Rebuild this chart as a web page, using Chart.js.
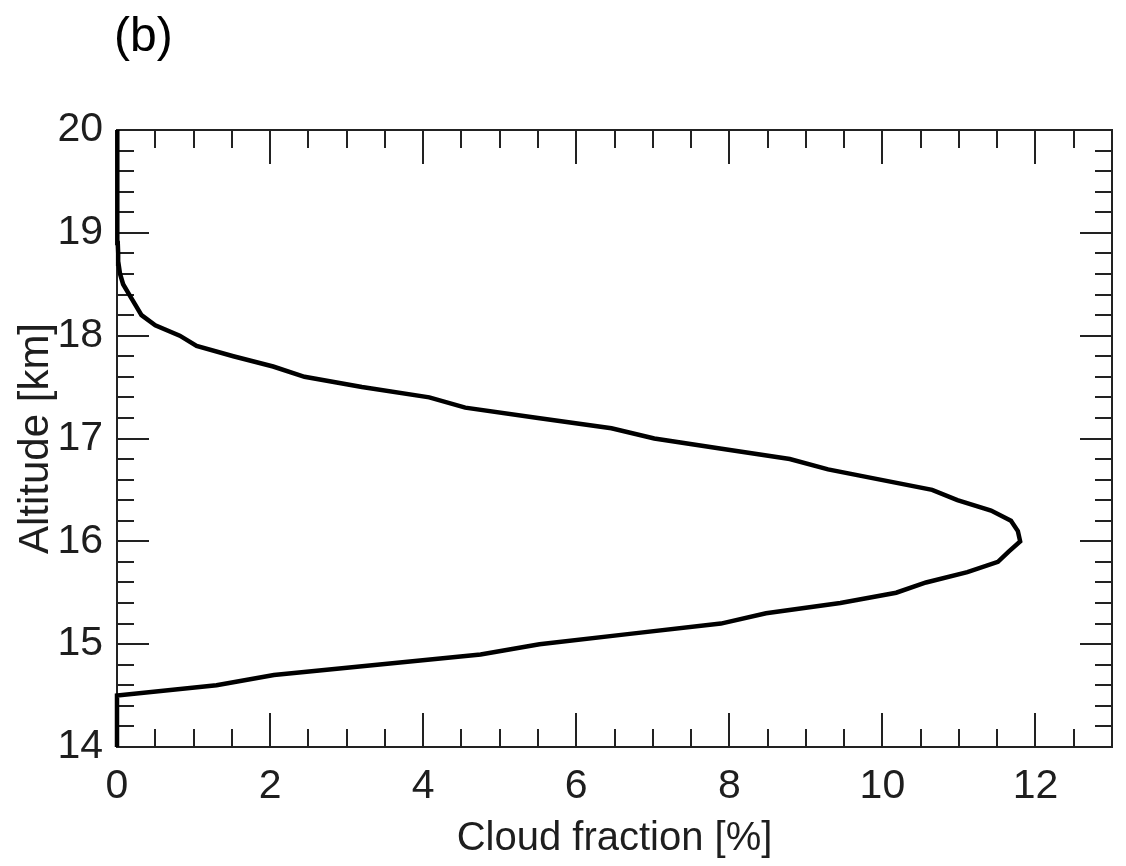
<!DOCTYPE html>
<html>
<head>
<meta charset="utf-8">
<title>Cloud fraction profile</title>
<script src="https://cdn.jsdelivr.net/npm/chart.js@4.4.0/dist/chart.umd.min.js"></script>
<style>
  html, body { margin: 0; padding: 0; background: #fff; }
  #wrap { width: 1126px; height: 866px; }
</style>
</head>
<body>
<div id="wrap"><canvas id="perfil" width="1126" height="866"></canvas></div>
<script>
// Altitudes (km) e fração de nuvens (%)
const altitude = [
    14.0, 14.1, 14.2, 14.3, 14.4, 14.5, 14.6, 14.7, 14.8, 14.9,
    15.0, 15.1, 15.2, 15.3, 15.4, 15.5, 15.6, 15.7, 15.8, 15.9,
    16.0, 16.1, 16.2, 16.3, 16.4, 16.5, 16.6, 16.7, 16.8, 16.9,
    17.0, 17.1, 17.2, 17.3, 17.4, 17.5, 17.6, 17.7, 17.8, 17.9,
    18.0, 18.1, 18.2, 18.3, 18.4, 18.5, 18.6, 18.7, 18.8, 18.9,
    19.0, 19.1, 19.2, 19.3, 19.4, 19.5, 19.6, 19.7, 19.8, 19.9, 20.0
];
const fracaoNuvem = [
    0, 0, 0, 0, 0, 0, 1.3, 2.05, 3.4, 4.75,
    5.52, 6.7, 7.89, 8.48, 9.45, 10.18, 10.57, 11.11, 11.51, 11.65,
    11.8, 11.77, 11.68, 11.42, 10.98, 10.65, 9.97, 9.29, 8.79, 7.9,
    7.02, 6.46, 5.5, 4.55, 4.08, 3.2, 2.45, 2.04, 1.52, 1.04,
    0.82, 0.5, 0.32, 0.24, 0.16, 0.08, 0.04, 0.02, 0.015, 0.01,
    0.01, 0.008, 0.006, 0.005, 0.004, 0.003, 0.002, 0.002, 0.001, 0.001, 0
];

// Rótulos dos eixos
const xTicks = [0, 2, 4, 6, 8, 10, 12];
const yTicks = [14, 15, 16, 17, 18, 19, 20];

const FONTE = '"Liberation Sans", Arial, Helvetica, sans-serif';
const COR_TEXTO = '#1e1e1e';

// Moldura com marcas para dentro nos quatro lados
const molduraPlugin = {
    id: 'moldura',
    beforeDatasetsDraw(chart) {
        const { ctx, chartArea: a, scales: { x, y } } = chart;
        ctx.save();
        ctx.strokeStyle = '#222';
        ctx.lineWidth = 2;
        ctx.beginPath();
        // marcas do eixo x: menores a cada 0.5, maiores a cada 2
        for (let i = 0; i * 0.5 <= x.max + 1e-9; i++) {
            const px = Math.round(x.getPixelForValue(i * 0.5));
            const len = i % 4 === 0 ? 34 : 18;
            ctx.moveTo(px, a.bottom); ctx.lineTo(px, a.bottom - len);
            ctx.moveTo(px, a.top); ctx.lineTo(px, a.top + len);
        }
        // marcas do eixo y: menores a cada 0.2, maiores a cada 1
        for (let i = 0; y.min + i * 0.2 <= y.max + 1e-9; i++) {
            const py = Math.round(y.getPixelForValue(y.min + i * 0.2));
            const len = i % 5 === 0 ? 32 : 17;
            ctx.moveTo(a.left, py); ctx.lineTo(a.left + len, py);
            ctx.moveTo(a.right, py); ctx.lineTo(a.right - len, py);
        }
        ctx.stroke();
        ctx.strokeRect(a.left, a.top, a.right - a.left, a.bottom - a.top);
        ctx.restore();
    },
    afterDraw(chart) {
        const ctx = chart.ctx;
        ctx.save();
        ctx.fillStyle = '#000';
        ctx.font = '48px ' + FONTE;
        ctx.textAlign = 'left';
        ctx.textBaseline = 'alphabetic';
        ctx.fillText('(b)', 114, 51);
        ctx.restore();
    }
};

const grafico = new Chart(document.getElementById('perfil').getContext('2d'), {
    type: 'line',
    data: {
        datasets: [{
            data: altitude.map((h, i) => ({ x: fracaoNuvem[i], y: h })),
            borderColor: '#000',
            borderWidth: 4.5,
            pointRadius: 0,
            tension: 0,
            fill: false,
            clip: false
        }]
    },
    options: {
        responsive: false,
        devicePixelRatio: 1,
        animation: false,
        layout: { padding: { left: 0, top: 130, right: 14, bottom: 0 } },
        plugins: {
            legend: { display: false },
            tooltip: { enabled: false }
        },
        scales: {
            x: {
                type: 'linear',
                position: 'bottom',
                min: 0,
                max: 13,
                grid: { display: false, drawTicks: false },
                border: { display: false },
                afterBuildTicks: (scale) => { scale.ticks = xTicks.map(v => ({ value: v })); },
                afterFit: (scale) => { scale.height = 119; },
                ticks: {
                    padding: 15,
                    color: COR_TEXTO,
                    maxRotation: 0,
                    font: { family: FONTE, size: 41 }
                },
                title: {
                    display: true,
                    text: 'Cloud fraction [%]',
                    color: COR_TEXTO,
                    padding: { top: 0, bottom: 11 },
                    font: { family: FONTE, size: 40, lineHeight: 0.8 }
                }
            },
            y: {
                type: 'linear',
                min: 14,
                max: 20,
                grid: { display: false, drawTicks: false },
                border: { display: false },
                afterBuildTicks: (scale) => { scale.ticks = yTicks.map(v => ({ value: v })); },
                afterFit: (scale) => { scale.width = 117; },
                ticks: {
                    padding: 14,
                    color: COR_TEXTO,
                    font: { family: FONTE, size: 41 }
                },
                title: {
                    display: true,
                    text: 'Altitude [km]',
                    color: COR_TEXTO,
                    padding: { top: 20, bottom: 0 },
                    font: { family: FONTE, size: 42, lineHeight: 0.8 }
                }
            }
        }
    },
    plugins: [molduraPlugin]
});
</script>
</body>
</html>
